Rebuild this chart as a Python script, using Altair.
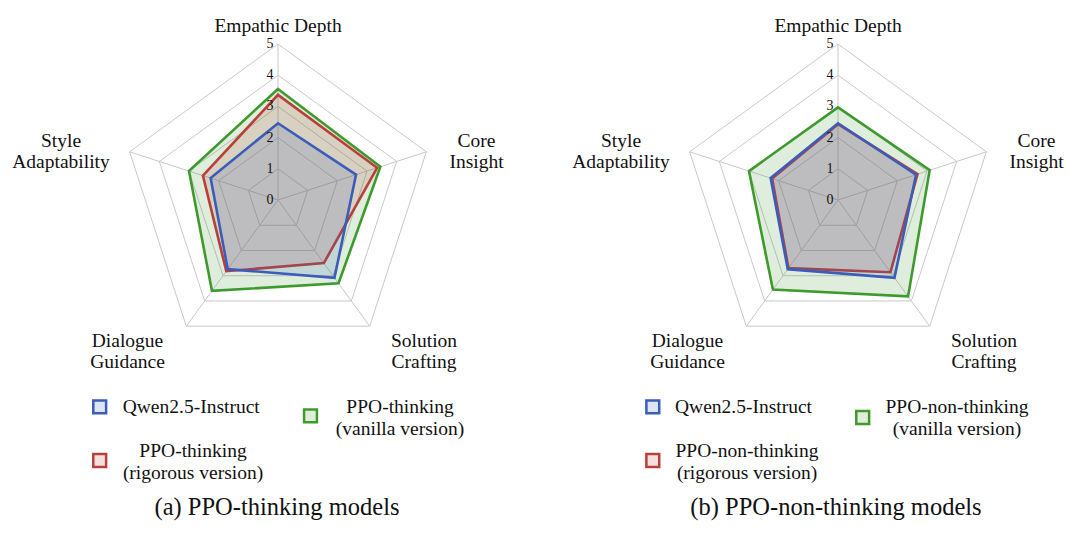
import altair as alt
import pandas as pd
import numpy as np

# ---------------- data ----------------
axes_names = ["Empathic Depth", "Core Insight", "Solution Crafting",
              "Dialogue Guidance", "Style Adaptability"]
tick_values = [0, 1, 2, 3, 4, 5]
grid_levels = [1, 2, 3, 4, 5]

qwen_a = [2.46, 2.63, 3.08, 2.74, 2.27]
rigorous_a = [3.37, 3.34, 2.50, 2.82, 2.53]
vanilla_a = [3.56, 3.45, 3.30, 3.60, 3.00]

qwen_b = [2.46, 2.63, 3.08, 2.74, 2.27]
rigorous_b = [2.43, 2.68, 2.86, 2.70, 2.22]
vanilla_b = [2.97, 3.09, 3.82, 3.55, 3.00]

legend_a = ["Qwen2.5-Instruct", "PPO-thinking\n(rigorous version)", "PPO-thinking\n(vanilla version)"]
legend_b = ["Qwen2.5-Instruct", "PPO-non-thinking\n(rigorous version)", "PPO-non-thinking\n(vanilla version)"]
captions = ["(a) PPO-thinking models", "(b) PPO-non-thinking models"]

series_a = [qwen_a, rigorous_a, vanilla_a]
series_b = [qwen_b, rigorous_b, vanilla_b]

# ---------------- layout / style ----------------
W, H = 1064, 533
U = 31.2                      # pixels per score unit
ORIGIN = (278, 200)           # page px of the left radar centre
CENTER_X = {"a": 278, "b": 838}
FONT = "Liberation Serif"
STROKES = ["#3b5cb8", "#b8403a", "#3f9a2e"]
FILL_OP = 0.17
GRID = "#c9c9c9"


def ux(px):
    return (px - ORIGIN[0]) / U


def uy(py):
    return (ORIGIN[1] - py) / U


XS = alt.Scale(domain=[ux(8), ux(8 + W)], nice=False, zero=False)
YS = alt.Scale(domain=[uy(8 + H), uy(8)], nice=False, zero=False)

angles = [np.deg2rad(90 - 72 * k) for k in range(5)]

label_layout = {   # dx from centre (px), first baseline (page px)
    "Empathic Depth": (0, 31.5),
    "Core Insight": (198.5, 146.5),
    "Solution Crafting": (146, 346.5),
    "Dialogue Guidance": (-150.5, 346.5),
    "Style Adaptability": (-217, 146.5),
}
LH = 21.5

legend_layout = {
    "a": {"sq": [(99.7, 406.8), (99.7, 460.5), (310.5, 415.8)],
          "tx": [(122.7, 413.3), (193, 457.3), (400, 413.3)]},
    "b": {"sq": [(652.8, 406.8), (652.8, 460.5), (862.7, 417.5)],
          "tx": [(675, 413.3), (747, 457.3), (957, 413.3)]},
}
caption_layout = {"a": (277, 515), "b": (836, 515)}

# ---------------- tables ----------------
grid_rows, spoke_rows, tick_rows, lab_rows = [], [], [], []
for p in ["a", "b"]:
    cx = ux(CENTER_X[p])
    for lv in grid_levels:
        for k, a in enumerate(angles):
            grid_rows.append({"key": f"{p}{lv}", "i": k,
                              "x": cx + lv * np.cos(a), "y": lv * np.sin(a)})
    for k, a in enumerate(angles):
        spoke_rows.append({"x": cx, "y": 0.0,
                           "x2": cx + 5 * np.cos(a), "y2": 5 * np.sin(a)})
    for t in tick_values:
        tick_rows.append({"x": cx - 4.4 / U, "y": float(t), "t": str(t)})
    for name in axes_names:
        dx, base = label_layout[name]
        lines = [name] if name == "Empathic Depth" else name.split(" ")
        for j, ln in enumerate(lines):
            lab_rows.append({"x": ux(CENTER_X[p] + dx), "y": uy(base + j * LH), "t": ln})

grid_df = pd.DataFrame(grid_rows)
spoke_df = pd.DataFrame(spoke_rows)
tick_df = pd.DataFrame(tick_rows)
lab_df = pd.DataFrame(lab_rows)

font_kw = dict(font=FONT, color="#111111")

layers = []
layers.append(alt.Chart(grid_df).mark_line(interpolate="linear-closed", stroke=GRID, strokeWidth=1).encode(
    x=alt.X("x:Q", scale=XS, axis=None), y=alt.Y("y:Q", scale=YS, axis=None),
    detail="key:N", order="i:Q"))
layers.append(alt.Chart(spoke_df).mark_rule(stroke=GRID, strokeWidth=1).encode(
    x=alt.X("x:Q", scale=XS, axis=None), y=alt.Y("y:Q", scale=YS, axis=None), x2="x2:Q", y2="y2:Q"))

# series polygons: vanilla first, then rigorous, then qwen on top
for s_idx in [2, 1, 0]:
    rows = []
    for p, ser in [("a", series_a), ("b", series_b)]:
        cx = ux(CENTER_X[p])
        for k, a in enumerate(angles):
            v = ser[s_idx][k]
            rows.append({"panel": p, "i": k, "x": cx + v * np.cos(a), "y": v * np.sin(a)})
    df = pd.DataFrame(rows)
    layers.append(alt.Chart(df).mark_line(
        interpolate="linear-closed", stroke=STROKES[s_idx], strokeWidth=2.6,
        fill=STROKES[s_idx], fillOpacity=FILL_OP, strokeJoin="miter").encode(
        x=alt.X("x:Q", scale=XS, axis=None), y=alt.Y("y:Q", scale=YS, axis=None),
        detail="panel:N", order="i:Q"))

layers.append(alt.Chart(tick_df).mark_text(align="right", baseline="middle", fontSize=14, **font_kw).encode(
    x=alt.X("x:Q", scale=XS, axis=None), y=alt.Y("y:Q", scale=YS, axis=None), text="t:N"))
layers.append(alt.Chart(lab_df).mark_text(align="center", baseline="alphabetic", fontSize=19.5, **font_kw).encode(
    x=alt.X("x:Q", scale=XS, axis=None), y=alt.Y("y:Q", scale=YS, axis=None), text="t:N"))

# legends
for p, labels in [("a", legend_a), ("b", legend_b)]:
    lay = legend_layout[p]
    for s_idx in range(3):
        sx, sy = lay["sq"][s_idx]
        sq_df = pd.DataFrame({"x": [ux(sx)], "y": [uy(sy)], "s": [labels[s_idx]]})
        layers.append(alt.Chart(sq_df).mark_point(
            shape="square", size=165, filled=True, fill=STROKES[s_idx], fillOpacity=FILL_OP,
            stroke=STROKES[s_idx], strokeWidth=2.5, opacity=1).encode(
            x=alt.X("x:Q", scale=XS, axis=None), y=alt.Y("y:Q", scale=YS, axis=None)))
        tx, ty = lay["tx"][s_idx]
        lines = labels[s_idx].split("\n")
        t_df = pd.DataFrame({"x": [ux(tx)] * len(lines),
                             "y": [uy(ty + j * LH) for j in range(len(lines))],
                             "t": lines})
        layers.append(alt.Chart(t_df).mark_text(
            align="left" if s_idx == 0 else "center", baseline="alphabetic", fontSize=19.5, **font_kw).encode(
            x=alt.X("x:Q", scale=XS, axis=None), y=alt.Y("y:Q", scale=YS, axis=None), text="t:N"))

cap_df = pd.DataFrame({"x": [ux(caption_layout[p][0]) for p in ["a", "b"]],
                       "y": [uy(caption_layout[p][1]) for p in ["a", "b"]],
                       "t": captions})
layers.append(alt.Chart(cap_df).mark_text(align="center", baseline="alphabetic", fontSize=24.5, **font_kw).encode(
    x=alt.X("x:Q", scale=XS, axis=None), y=alt.Y("y:Q", scale=YS, axis=None), text="t:N"))

chart = alt.layer(*layers).properties(
    width=W, height=H, padding=0, background="white",
    autosize=alt.AutoSizeParams(type="none")
).configure_view(stroke=None)

chart.save("out.html", embed_options={"renderer": "svg", "actions": False})
